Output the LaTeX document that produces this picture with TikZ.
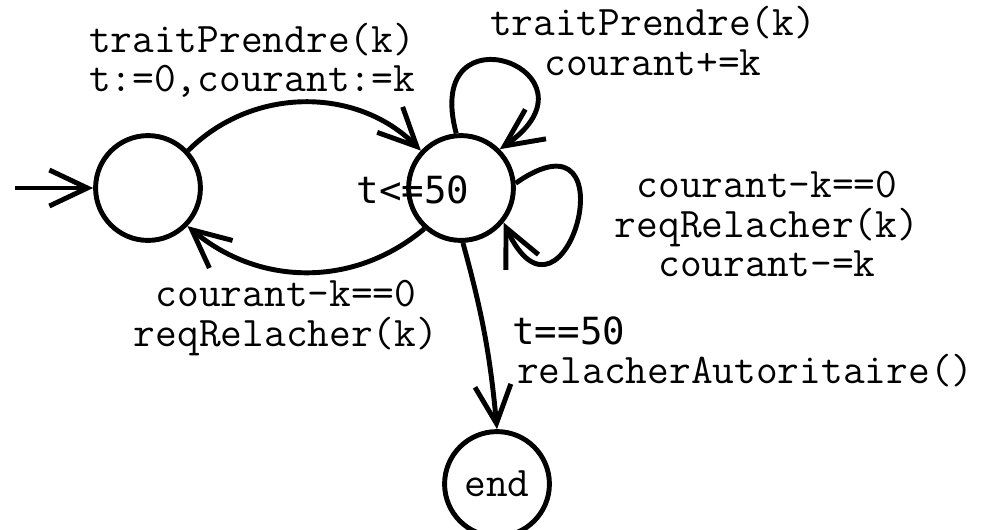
\documentclass[tikz,border=0pt]{standalone}
\usepackage{fontspec}
\newfontfamily\dejamono{DejaVu Sans Mono}
\usetikzlibrary{arrows.meta}

\tikzset{
  etat/.style={draw,circle,minimum size=2.62cm,inner sep=0pt},
  trans/.style={-{Straight Barb[length=0.95cm,width=0.9cm]}},
  garde/.style={align=center,inner sep=0pt},
}

\begin{document}
\begin{tikzpicture}[x=0.025cm,y=0.025cm,line width=3.5pt,font=\ttfamily\fontsize{30}{28}\selectfont]
\useasboundingbox (0,0) rectangle (986,-529);

% les etats
\node[etat] (repos) at (148,-188) {};
\node[etat] (prise) at (461,-188) {};
\node[etat] (fin) at (497,-484) {end};
\coordinate (entree) at (15,-188);
\node[inner sep=0pt,font=\dejamono\fontsize{26.6}{27}\selectfont] (inv) at (413,-190) {t<=50};

% les transitions
\draw[trans] (entree) -- (repos);
\draw[trans] (repos.43) to[out=45,in=135] (prise.137);
\draw[trans] (prise.-132) to[out=-140,in=-40] (repos.-44);
\draw[trans] (prise.95) to[out=105,in=35,looseness=7.5] (prise.45);
\draw[trans] (prise.5) to[out=35,in=-65,looseness=9] (prise.-39);
\draw[trans] (prise.-88) to[bend left=5] (fin.north);

% les etiquettes
\node[garde] (lbPrendre) at (252,-60) {traitPrendre(k)\\t:=0,courant:=k};
\node[garde] (lbAjout) at (653,-41) {traitPrendre(k)\\courant+=k};
\node[garde] (lbRetrait) at (767,-224) {courant-k==0\\reqRelacher(k)\\courant-=k};
\node[garde] (lbRelache) at (286,-318) {courant-k==0\\reqRelacher(k)};
\node[garde,align=left,anchor=west] (lbFin) at (510,-352)
  {{\dejamono\fontsize{26.6}{27}\selectfont t==50}\\\hspace*{0.12cm}relacherAutoritaire()};
\end{tikzpicture}
\end{document}
